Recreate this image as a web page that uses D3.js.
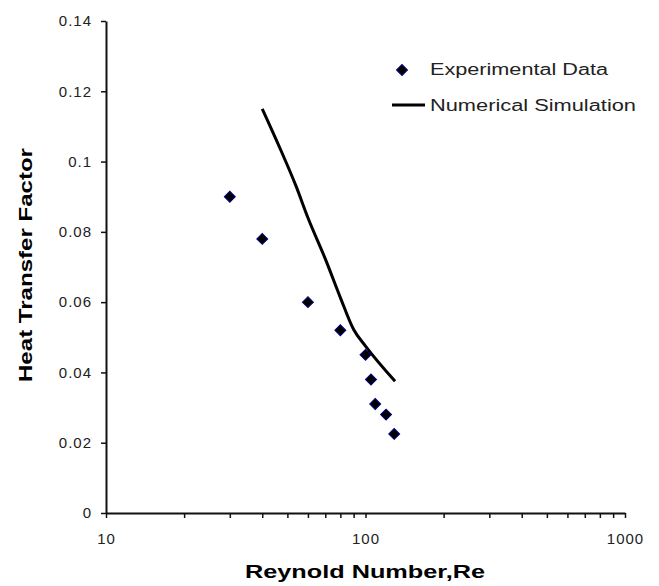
<!DOCTYPE html>
<html>
<head>
<meta charset="utf-8">
<script src="https://cdn.jsdelivr.net/npm/d3@7"></script>
<style>
  body { margin: 0; background: #fff; }
  text { font-family: "Liberation Sans", Arial, sans-serif; }
</style>
</head>
<body>
<div id="chart"></div>
<script>
// Experimental data (Re, heat transfer factor)
const expRe = [30, 40, 60, 80, 100, 105, 109, 120, 129];
const expJ = [0.090, 0.078, 0.060, 0.052, 0.045, 0.038, 0.031, 0.028, 0.0225];

// Numerical simulation curve
const simRe = [40, 47, 54, 60, 70, 80, 90, 100, 130];
const simJ = [0.115, 0.1035, 0.093, 0.084, 0.0723, 0.0613, 0.0522, 0.0475, 0.0375];

const xTicks = [10, 20, 30, 40, 50, 60, 70, 80, 90, 100, 200, 300, 400, 500, 600, 700, 800, 900, 1000];
const yTicks = [0, 0.02, 0.04, 0.06, 0.08, 0.1, 0.12, 0.14];

const legendLabels = ["Experimental Data", "Numerical Simulation"];

const width = 659;
const height = 586;

const svg = d3.select("#chart").append("svg")
    .attr("width", width)
    .attr("height", height);

svg.append("rect").attr("width", width).attr("height", height).attr("fill", "#fff");

const xScale = d3.scaleLog().domain([10, 1000]).range([106, 625]);
const yScale = d3.scaleLinear().domain([0, 0.14]).range([513, 21]);

// axes
const xAxis = svg.append("g")
    .attr("transform", "translate(0,513)")
    .call(d3.axisBottom(xScale)
        .tickValues(xTicks)
        .tickFormat(d => [10, 100, 1000].includes(d) ? String(d) : "")
        .tickSize(5)
        .tickSizeOuter(0)
        .tickPadding(15));

const yAxis = svg.append("g")
    .attr("transform", "translate(106,0)")
    .call(d3.axisLeft(yScale)
        .tickValues(yTicks)
        .tickFormat(d => String(+d.toFixed(2)))
        .tickSize(5)
        .tickSizeOuter(0)
        .tickPadding(9));

[xAxis, yAxis].forEach(g => {
    g.select(".domain").attr("stroke", "#111").attr("stroke-width", 2);
    g.selectAll(".tick line").attr("stroke", "#111").attr("stroke-width", 1.5);
    g.selectAll(".tick text")
        .attr("fill", "#222")
        .style("font-size", "15px")
        .style("letter-spacing", "1px");
});

// simulation line
const line = d3.line()
    .x(d => xScale(d[0]))
    .y(d => yScale(d[1]))
    .curve(d3.curveMonotoneX);

svg.append("path")
    .datum(simRe.map((r, i) => [r, simJ[i]]))
    .attr("fill", "none")
    .attr("stroke", "#000")
    .attr("stroke-width", 3)
    .attr("d", line);

// experimental points
const diamond = d3.symbol().type(d3.symbolSquare).size(60);

svg.selectAll(".pt")
    .data(expRe.map((r, i) => [r, expJ[i]]))
    .enter().append("path")
    .attr("class", "pt")
    .attr("d", diamond)
    .attr("transform", d => `translate(${xScale(d[0])},${yScale(d[1])}) rotate(45)`)
    .attr("fill", "#000")
    .attr("stroke", "#000080")
    .attr("stroke-width", 1);

// axis titles
svg.append("text")
    .attr("x", 365)
    .attr("y", 578)
    .attr("text-anchor", "middle")
    .attr("textLength", 240)
    .attr("lengthAdjust", "spacingAndGlyphs")
    .style("font-size", "19px")
    .style("font-weight", "bold")
    .attr("fill", "#000")
    .text("Reynold Number,Re");

svg.append("text")
    .attr("transform", "translate(32,265) rotate(-90)")
    .attr("text-anchor", "middle")
    .attr("textLength", 234)
    .attr("lengthAdjust", "spacingAndGlyphs")
    .style("font-size", "19px")
    .style("font-weight", "bold")
    .attr("fill", "#000")
    .text("Heat Transfer Factor");

// legend
const legend = svg.append("g");

legend.append("path")
    .attr("d", diamond)
    .attr("transform", "translate(402,70) rotate(45)")
    .attr("fill", "#000")
    .attr("stroke", "#000080");

legend.append("text")
    .attr("x", 430)
    .attr("y", 75)
    .attr("textLength", 178)
    .attr("lengthAdjust", "spacingAndGlyphs")
    .style("font-size", "16px")
    .attr("fill", "#222")
    .text(legendLabels[0]);

legend.append("line")
    .attr("x1", 392).attr("x2", 425)
    .attr("y1", 105).attr("y2", 105)
    .attr("stroke", "#000")
    .attr("stroke-width", 3);

legend.append("text")
    .attr("x", 430)
    .attr("y", 111)
    .attr("textLength", 206)
    .attr("lengthAdjust", "spacingAndGlyphs")
    .style("font-size", "16px")
    .attr("fill", "#222")
    .text(legendLabels[1]);
</script>
</body>
</html>
